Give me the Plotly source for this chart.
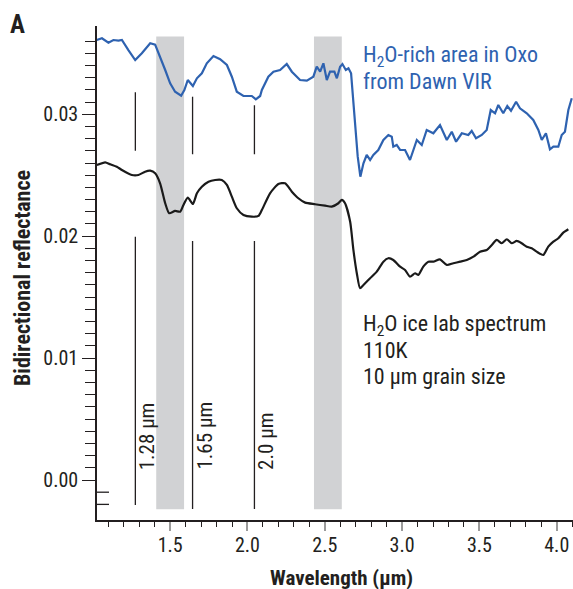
import plotly.graph_objects as go

# ---- data ----
oxo_wavelength = [1.026, 1.059, 1.101, 1.133, 1.166, 1.188, 1.230, 1.274, 1.317, 1.371, 1.403, 1.435, 1.468,
                  1.500, 1.532, 1.571, 1.592, 1.614, 1.647, 1.673, 1.705, 1.737, 1.780, 1.823, 1.867, 1.899,
                  1.931, 1.974, 2.028, 2.054, 2.082, 2.093, 2.135, 2.168, 2.211, 2.254, 2.287, 2.340, 2.384,
                  2.426, 2.448, 2.470, 2.491, 2.513, 2.534, 2.562, 2.578, 2.599, 2.614, 2.636, 2.653, 2.670,
                  2.696, 2.713, 2.730, 2.750, 2.771, 2.793, 2.814, 2.846, 2.879, 2.911, 2.933, 2.943, 2.965,
                  2.987, 3.019, 3.051, 3.095, 3.127, 3.159, 3.202, 3.245, 3.289, 3.321, 3.349, 3.386, 3.428,
                  3.450, 3.478, 3.515, 3.547, 3.573, 3.601, 3.622, 3.654, 3.680, 3.704, 3.737, 3.762, 3.806,
                  3.848, 3.881, 3.903, 3.930, 3.956, 3.978, 4.010, 4.032, 4.053, 4.075, 4.097]
oxo_reflectance = [0.03609, 0.03623, 0.03587, 0.03609, 0.03604, 0.03609, 0.03527, 0.03445, 0.03500, 0.03582,
                   0.03571, 0.03472, 0.03363, 0.03254, 0.03185, 0.03152, 0.03199, 0.03281, 0.03232, 0.03295,
                   0.03336, 0.03418, 0.03478, 0.03451, 0.03404, 0.03308, 0.03185, 0.03150, 0.03150, 0.03123,
                   0.03150, 0.03199, 0.03308, 0.03349, 0.03363, 0.03412, 0.03349, 0.03281, 0.03276, 0.03308,
                   0.03390, 0.03349, 0.03418, 0.03281, 0.03349, 0.03349, 0.03295, 0.03390, 0.03412, 0.03363,
                   0.03377, 0.03336, 0.02926, 0.02652, 0.02488, 0.02598, 0.02666, 0.02625, 0.02666, 0.02707,
                   0.02789, 0.02830, 0.02816, 0.02734, 0.02748, 0.02707, 0.02707, 0.02625, 0.02789, 0.02748,
                   0.02871, 0.02844, 0.02912, 0.02789, 0.02857, 0.02775, 0.02844, 0.02830, 0.02863, 0.02803,
                   0.02830, 0.02871, 0.03035, 0.03008, 0.03076, 0.03008, 0.03068, 0.03029, 0.03103, 0.03049,
                   0.03008, 0.02953, 0.02871, 0.02789, 0.02844, 0.02713, 0.02734, 0.02734, 0.02830, 0.02857,
                   0.03035, 0.03131]

lab_wavelength = [1.026, 1.080, 1.112, 1.155, 1.188, 1.252, 1.295, 1.338, 1.371, 1.403, 1.435, 1.468, 1.494,
                  1.532, 1.565, 1.586, 1.614, 1.647, 1.673, 1.705, 1.748, 1.791, 1.834, 1.867, 1.899, 1.931,
                  1.974, 2.028, 2.071, 2.093, 2.146, 2.200, 2.243, 2.287, 2.329, 2.373, 2.437, 2.502, 2.545,
                  2.588, 2.610, 2.631, 2.664, 2.685, 2.707, 2.728, 2.750, 2.793, 2.836, 2.879, 2.911, 2.943,
                  2.987, 3.019, 3.051, 3.084, 3.105, 3.137, 3.170, 3.202, 3.245, 3.289, 3.331, 3.375, 3.418,
                  3.461, 3.504, 3.547, 3.580, 3.612, 3.644, 3.677, 3.709, 3.741, 3.773, 3.806, 3.838, 3.870,
                  3.913, 3.945, 3.978, 4.010, 4.042, 4.075, 4.097]
lab_reflectance = [0.02584, 0.02606, 0.02590, 0.02570, 0.02543, 0.02502, 0.02502, 0.02529, 0.02537, 0.02516,
                   0.02434, 0.02270, 0.02188, 0.02207, 0.02201, 0.02256, 0.02316, 0.02264, 0.02352, 0.02406,
                   0.02447, 0.02461, 0.02461, 0.02420, 0.02324, 0.02229, 0.02174, 0.02160, 0.02166, 0.02215,
                   0.02352, 0.02428, 0.02434, 0.02365, 0.02311, 0.02275, 0.02262, 0.02250, 0.02242, 0.02270,
                   0.02297, 0.02270, 0.02119, 0.01887, 0.01696, 0.01573, 0.01600, 0.01655, 0.01709, 0.01791,
                   0.01819, 0.01805, 0.01750, 0.01723, 0.01668, 0.01696, 0.01682, 0.01750, 0.01791, 0.01791,
                   0.01810, 0.01764, 0.01778, 0.01791, 0.01805, 0.01832, 0.01873, 0.01887, 0.01928, 0.01969,
                   0.01942, 0.01975, 0.01942, 0.01961, 0.01942, 0.01914, 0.01901, 0.01873, 0.01846, 0.01914,
                   0.01955, 0.01983, 0.02029, 0.02057]

band_starts = [1.41, 2.43]
band_ends = [1.59, 2.61]
band_bottom = -0.0024
band_top = 0.03637

feature_positions = [1.275, 1.645, 2.045]
feature_labels = ["1.28 µm", "1.65 µm", "2.0 µm"]
upper_seg_top = [0.03180, 0.03144, 0.03074]
upper_seg_bottom = [0.02701, 0.02672, 0.02672]
lower_seg_top = [0.01996, 0.01961, 0.01961]
lower_seg_bottom = [-0.00205, -0.00238, -0.00238]

y_major = [0.0, 0.01, 0.02, 0.03]
y_major_text = ["0.00", "0.01", "0.02", "0.03"]
y_minor = [i / 1000 for i in range(1, 37) if i % 10 != 0]
y_inside_minor = [-0.001, -0.002]
x_major = [1.5, 2.0, 2.5, 3.0, 3.5, 4.0]
x_major_text = ["1.5", "2.0", "2.5", "3.0", "3.5", "4.0"]

FONT = "Liberation Sans Narrow, Arial Narrow, Roboto Condensed, Liberation Sans, sans-serif"
INK = "#231f20"
BLUE = "#2e62b0"
W, H = 573, 589
PL, PT, PW, PH = 97, 26, 476, 494

fig = go.Figure()
fig.add_trace(go.Scatter(x=oxo_wavelength, y=oxo_reflectance, mode="lines",
                         line=dict(color=BLUE, width=2.2), hoverinfo="skip", showlegend=False))
fig.add_trace(go.Scatter(x=lab_wavelength, y=lab_reflectance, mode="lines",
                         line=dict(color="#1a1a1a", width=2.2, shape="spline", smoothing=0.6),
                         hoverinfo="skip", showlegend=False))

shapes = []
for x0, x1 in zip(band_starts, band_ends):
    shapes.append(dict(type="rect", xref="x", yref="y", x0=x0, x1=x1, y0=band_bottom, y1=band_top,
                       fillcolor="#d1d2d4", line=dict(width=0), layer="below"))
for i, xp in enumerate(feature_positions):
    shapes.append(dict(type="line", xref="x", yref="y", x0=xp, x1=xp, y0=upper_seg_bottom[i],
                       y1=upper_seg_top[i], line=dict(color=INK, width=1.3)))
    shapes.append(dict(type="line", xref="x", yref="y", x0=xp, x1=xp, y0=lower_seg_bottom[i],
                       y1=lower_seg_top[i], line=dict(color=INK, width=1.3)))
for yv in y_inside_minor:
    shapes.append(dict(type="line", xref="paper", yref="y", x0=0, x1=12 / PW, y0=yv, y1=yv,
                       line=dict(color=INK, width=1.3)))

annotations = []
for xp, lab in zip(feature_positions, feature_labels):
    annotations.append(dict(x=xp, y=0.00066, xref="x", yref="y", text=lab, textangle=-90,
                            showarrow=False, xanchor="center", yanchor="bottom", xshift=12,
                            font=dict(family=FONT, size=21, color=INK)))

ann_px = [
    dict(x=8, y=25, text="<b>A</b>", size=25, color=INK, xanchor="left"),
    dict(x=361, y=56, text="H<sub>2</sub>O-rich area in Oxo", size=22, color=BLUE, xanchor="left"),
    dict(x=361, y=82, text="from Dawn VIR", size=22, color=BLUE, xanchor="left"),
    dict(x=361, y=325, text="H<sub>2</sub>O ice lab spectrum", size=22, color=INK, xanchor="left"),
    dict(x=361, y=350, text="110K", size=22, color=INK, xanchor="left"),
    dict(x=361, y=376, text="10 µm grain size", size=22, color=INK, xanchor="left"),
    dict(x=341, y=578, text="<b>Wavelength (µm)</b>", size=21, color=INK, xanchor="center"),
]
for a in ann_px:
    annotations.append(dict(x=(a["x"] - PL) / PW, y=1 - (a["y"] - PT) / PH, xref="paper", yref="paper",
                            text=a["text"], showarrow=False, xanchor=a["xanchor"], yanchor="middle",
                            font=dict(family=FONT, size=a["size"], color=a["color"])))
annotations.append(dict(x=(22 - PL) / PW, y=1 - (278 - PT) / PH, xref="paper", yref="paper",
                        text="<b>Bidirectional reflectance</b>", textangle=-90, showarrow=False,
                        xanchor="center", yanchor="middle",
                        font=dict(family=FONT, size=22, color=INK)))

fig.update_layout(
    width=W, height=H,
    margin=dict(l=PL, r=W - PL - PW, t=PT, b=H - PT - PH, autoexpand=False),
    paper_bgcolor="white", plot_bgcolor="white",
    shapes=shapes,
    annotations=annotations,
    xaxis=dict(range=[1.027, 4.105], automargin=False, showline=True, linecolor=INK, linewidth=1.5,
               showgrid=False, zeroline=False,
               tickmode="array", tickvals=x_major, ticktext=x_major_text,
               ticks="outside", ticklen=9, tickwidth=2, tickcolor="#9b9b9b",
               ticklabelstandoff=-3,
               tickfont=dict(family=FONT, size=20, color=INK),
               minor=dict(dtick=0.1, tick0=1.0, ticks="outside", ticklen=5, tickwidth=1.3, tickcolor=INK)),
    yaxis=dict(range=[-0.00328, 0.03724], automargin=False, showline=True, linecolor=INK, linewidth=1.5,
               showgrid=False, zeroline=False,
               tickmode="array", tickvals=y_major, ticktext=y_major_text,
               ticks="outside", ticklen=13, tickwidth=1.3, tickcolor=INK,
               tickfont=dict(family=FONT, size=20, color=INK),
               minor=dict(tickmode="array", tickvals=y_minor, ticks="outside", ticklen=10,
                          tickwidth=1.3, tickcolor=INK)),
)

fig.write_html("out.html", config={"displayModeBar": False},
               post_script="document.body.style.margin='0';document.body.style.overflow='hidden';")
